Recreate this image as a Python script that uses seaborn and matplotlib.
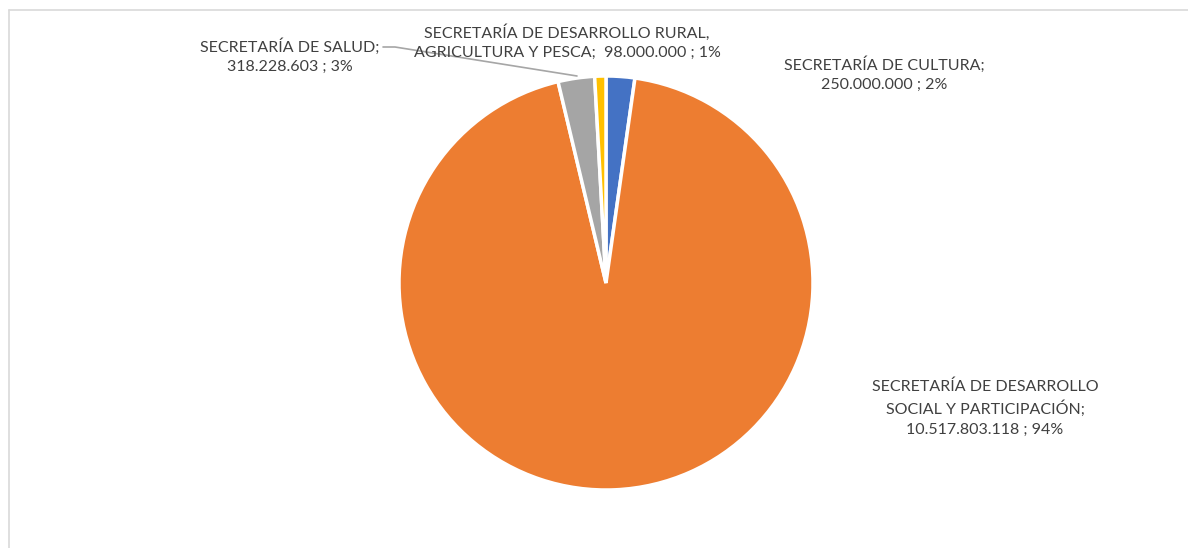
import matplotlib
matplotlib.use("Agg")
import matplotlib.pyplot as plt
import seaborn as sns
from matplotlib.lines import Line2D

# Data
secretarias = ["SECRETARÍA DE CULTURA",
               "SECRETARÍA DE DESARROLLO SOCIAL Y PARTICIPACIÓN",
               "SECRETARÍA DE SALUD",
               "SECRETARÍA DE DESARROLLO RURAL, AGRICULTURA Y PESCA"]
label_text = ["SECRETARÍA DE CULTURA;\n",
              "SECRETARÍA DE DESARROLLO\nSOCIAL Y PARTICIPACIÓN;\n",
              "SECRETARÍA DE SALUD;\n",
              "SECRETARÍA DE DESARROLLO RURAL,\nAGRICULTURA Y PESCA;  "]
valores = [250000000, 10517803118, 318228603, 98000000]
colores = ["#4472C4", "#ED7D31", "#A5A5A5", "#FFC000"]

sns.set_theme(style="white")
plt.rcParams['font.family'] = ['Lato', 'DejaVu Sans']

W, H = 1188, 548
fig = plt.figure(figsize=(W / 100, H / 100), dpi=100)

# chart frame (light border top/left like the source)
fig.add_artist(Line2D([9 / W, 9 / W], [0, 1 - 10 / H], color="#D9D9D9", lw=1.2))
fig.add_artist(Line2D([9 / W, 1], [1 - 10 / H, 1 - 10 / H], color="#D9D9D9", lw=1.2))

cx, cy, r = 606, 283, 207
ax = fig.add_axes([(cx - r) / W, (H - cy - r) / H, 2 * r / W, 2 * r / H])
ax.pie(valores, colors=colores, startangle=90, counterclock=False, radius=1,
       wedgeprops=dict(edgecolor="white", linewidth=2.5))
ax.set_xlim(-1, 1)
ax.set_ylim(-1, 1)
ax.set_aspect("equal")
ax.axis("off")

total = sum(valores)


def fmt(v):
    return f"{v:,}".replace(",", ".")


# label positions in pixel coords of the source image
pos_px = [(884, 74), (985, 408), (290, 56), (567, 42)]
for txt, v, (px, py) in zip(label_text, valores, pos_px):
    pct = round(v / total * 100)
    lbl = f"{txt}{fmt(v)} ; {pct}%"
    ax.text((px - cx) / r, (cy - py) / r, lbl, ha="center", va="center",
            fontsize=11.5, color="#404040", linespacing=1.5, clip_on=False)

# leader line for SALUD
xs = [(383 - cx) / r, (395 - cx) / r, (577 - cx) / r]
ys = [(cy - 47) / r, (cy - 47) / r, (cy - 76) / r]
ax.plot(xs, ys, color="#A6A6A6", lw=1.2, clip_on=False)

fig.savefig("out.png", dpi=100, facecolor="white")
